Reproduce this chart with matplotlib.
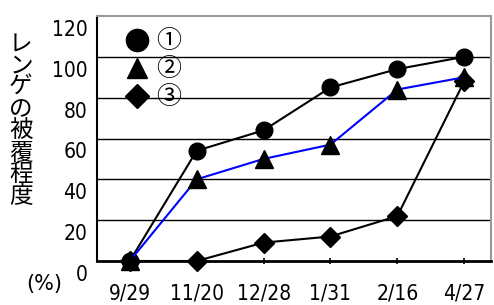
import matplotlib
matplotlib.use('Agg')
import matplotlib.pyplot as plt
import matplotlib.transforms as mtransforms
from matplotlib.lines import Line2D

# data
dates = ['9/29', '11/20', '12/28', '1/31', '2/16', '4/27']
s1 = [0, 54, 64, 85, 94, 100]
s2 = [0, 40, 50, 57, 84, 90]
s3 = [0, 0, 9, 12, 22, 88]
labels = ['①', '②', '③']
yticks = [0, 20, 40, 60, 80, 100, 120]
ylab = 'レンゲの被覆程度'

tickfont = ['DejaVu Sans']
cjk = ['Noto Sans CJK JP', 'DejaVu Sans']

fig = plt.figure(figsize=(4.94, 3.05), dpi=100)
ax = fig.add_axes([97/494, 44/305, 394/494, 245/305])

x = list(range(len(dates)))
ax.plot(x, s1, color='black', lw=1.5, marker='o', ms=12, clip_on=False, zorder=4)
ax.plot(x, s2, color='blue', lw=1.5, marker='^', ms=13, mfc='black', mec='black', clip_on=False, zorder=5)
ax.plot(x, s3, color='black', lw=1.5, marker='D', ms=10, clip_on=False, zorder=3)

ax.set_xlim(-0.49, 5.4)
ax.set_ylim(0, 120)
for v in yticks[1:-1]:
    ax.axhline(v, color='black', lw=1.0, zorder=1)

ax.set_yticks(yticks)
ax.set_yticklabels([str(v) for v in yticks], family=tickfont, fontsize=15,
                   fontstretch='condensed')
ax.tick_params(axis='y', length=0, pad=7)
off = mtransforms.ScaledTranslation(0, -0.12, fig.dpi_scale_trans)
for t in ax.get_yticklabels():
    t.set_transform(t.get_transform() + off)

ax.set_xticks(x)
ax.set_xticklabels(dates, family=tickfont, fontsize=15, fontstretch='condensed')
ax.tick_params(axis='x', length=4, width=1.2, direction='inout', pad=14)

for side in ['top', 'right']:
    ax.spines[side].set_color('#999999')
    ax.spines[side].set_linewidth(1.5)
ax.spines['left'].set_linewidth(1.5)
ax.spines['bottom'].set_linewidth(2)

handles = [Line2D([], [], ls='', marker='o', ms=16, color='black'),
           Line2D([], [], ls='', marker='^', ms=14, color='black'),
           Line2D([], [], ls='', marker='D', ms=12, color='black')]
ax.legend(handles, labels, loc='upper left', bbox_to_anchor=(0.035, 1.0), frameon=False,
          prop={'family': cjk, 'size': 18}, handlelength=1.1, handletextpad=0.2,
          labelspacing=0.08, borderpad=0)

# vertical y-axis title, one character per line
for i, ch in enumerate(ylab):
    fig.text(21/494, 1 - (44 + 21.8 * i) / 305, ch, family=cjk, fontsize=17,
             ha='center', va='center')
fig.text(44/494, 1 - 284/305, '(%)', family=tickfont, fontsize=15,
         ha='center', va='center')

fig.savefig('out.png', dpi=100)
